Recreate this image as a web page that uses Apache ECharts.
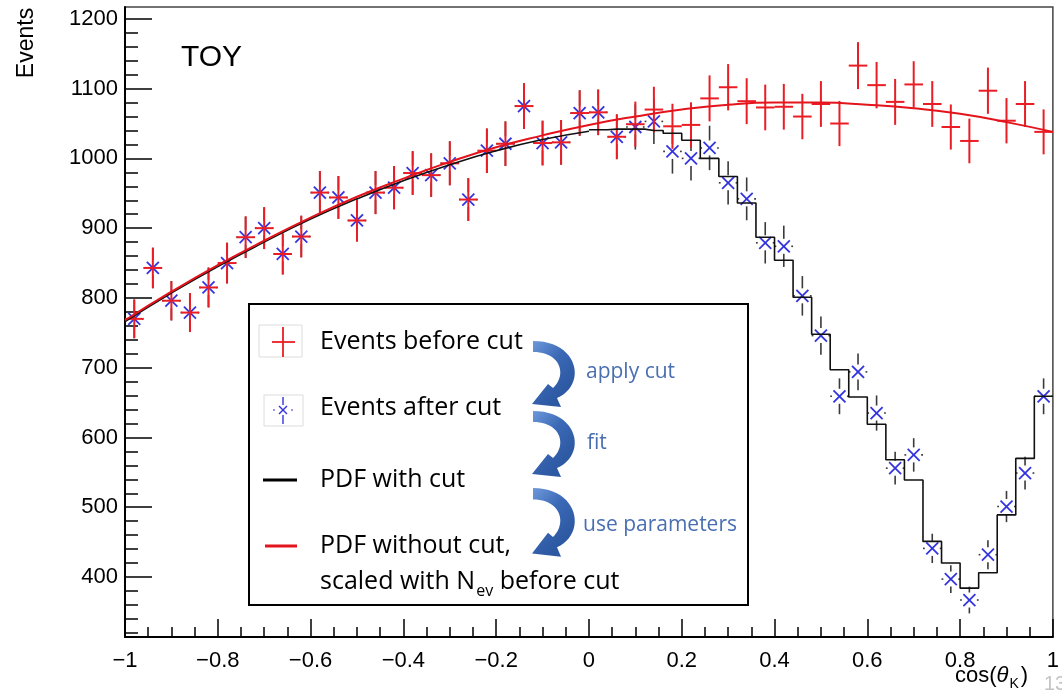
<!DOCTYPE html>
<html>
<head>
<meta charset="utf-8">
<script src="https://cdn.jsdelivr.net/npm/echarts@6/dist/echarts.min.js"></script>
<style>
  html, body { margin: 0; padding: 0; background: #fff; }
  #chart { width: 1062px; height: 697px; }
</style>
</head>
<body>
<div id="chart"></div>
<script>
// ---- data ---------------------------------------------------------------
// bin centres of the cos(theta_K) histogram (50 bins of width 0.04)
const binCenters = [-0.98,-0.94,-0.90,-0.86,-0.82,-0.78,-0.74,-0.70,-0.66,-0.62,
                    -0.58,-0.54,-0.50,-0.46,-0.42,-0.38,-0.34,-0.30,-0.26,-0.22,
                    -0.18,-0.14,-0.10,-0.06,-0.02, 0.02, 0.06, 0.10, 0.14, 0.18,
                     0.22, 0.26, 0.30, 0.34, 0.38, 0.42, 0.46, 0.50, 0.54, 0.58,
                     0.62, 0.66, 0.70, 0.74, 0.78, 0.82, 0.86, 0.90, 0.94, 0.98];
const binWidth = 0.04;

// toy events per bin before the acceptance cut
const eventsBeforeCut = [770, 843, 796, 779, 815, 850, 887, 900, 863, 888,
                         951, 944, 911, 951, 958, 979, 976, 993, 941,1011,
                        1021,1075,1022,1023,1065,1066,1031,1049,1070,1046,
                        1048,1086,1102,1082,1073,1074,1060,1078,1050,1133,
                        1105,1081,1106,1078,1045,1025,1097,1054,1078,1038];

// toy events per bin after the acceptance cut
const eventsAfterCut  = [770, 843, 796, 779, 815, 850, 887, 900, 863, 888,
                         951, 944, 911, 951, 958, 979, 976, 993, 941,1011,
                        1021,1075,1022,1023,1065,1066,1031,1045,1053,1010,
                        1000,1015, 965, 942, 879, 874, 803, 746, 659, 694,
                         635, 556, 575, 441, 397, 367, 432, 501, 549, 659];

// PDF without cut, scaled with N_ev before cut
const pdfNoCutX = [-1.0,-0.9,-0.8,-0.7,-0.6,-0.5,-0.4,-0.3,-0.2,-0.1,0.0,
                    0.1, 0.2, 0.3, 0.4, 0.5, 0.6, 0.7, 0.8, 0.9, 1.0];
const pdfNoCut  = [768, 809, 847, 882, 915, 945, 971, 995,1016,1033,1048,
                  1060,1070,1077,1080,1080,1077,1072,1064,1052,1038];

// PDF with cut: smooth part (full acceptance) ...
const pdfCutSmoothX = [-1.0,-0.9,-0.8,-0.7,-0.6,-0.5,-0.4,-0.3,-0.2,-0.1,0.0];
const pdfCutSmooth  = [766, 807, 845, 880, 913, 942, 968, 991,1011,1027,1039];
// ... and the binned part where the acceptance drops
const pdfCutBinX = [0.02,0.06,0.10,0.14,0.18,0.22,0.26,0.30,0.34,0.38,0.42,0.46,0.50,
                    0.54,0.58,0.62,0.66,0.70,0.74,0.78,0.82,0.86,0.90,0.94,0.98];
const pdfCutBin  = [1041,1042,1042,1040,1036,1026,1000, 974, 936, 887, 854, 801, 748,
                     697, 658, 619, 568, 539, 451, 420, 384, 406, 489, 570, 659];

// axis tick labels
const xTickLabels = ['\u22121','\u22120.8','\u22120.6','\u22120.4','\u22120.2','0','0.2','0.4','0.6','0.8','1'];
const yTickLabels = ['400','500','600','700','800','900','1000','1100','1200'];

// ---- layout -------------------------------------------------------------
const W = 1062, H = 697;
const plot = { left: 125, top: 7, right: 8, bottom: 60 };
const yMin = 314, yMax = 1217;
const plotH = H - plot.top - plot.bottom;
function yPix(v) { return plot.top + (yMax - v) / (yMax - yMin) * plotH; }

const RED = '#ea1d25', BLUE = '#3434de', LABEL_BLUE = '#4a6fb1';
const tickFont = 'Liberation Sans';
const legendFont = 'Open Sans';
const legendSize = 25;

const measureCtx = document.createElement('canvas').getContext('2d');
function textWidth(str, size, family, fstyle) {
  measureCtx.font = (fstyle || 'normal') + ' ' + size + 'px "' + family + '"';
  return measureCtx.measureText(str).width;
}
function txt(str, x, y, size, family, fill, extra) {
  return Object.assign({
    type: 'text', x: x, y: y, silent: true,
    style: Object.assign({
      text: str, fontSize: size, fontFamily: family, fill: fill,
      align: 'left', verticalAlign: 'middle',
      textAlign: 'left', textVerticalAlign: 'middle'
    }, (extra && extra.style) || {})
  }, (extra && extra.el) || {});
}

// ---- mark renderers -----------------------------------------------------
function drawAfterCut(params, api) {
  const x = api.value(0), n = api.value(1), err = Math.sqrt(n);
  const c = api.coord([x, n]);
  const top = api.coord([x, n + err])[1], bot = api.coord([x, n - err])[1];
  const left = api.coord([x - binWidth / 2, n])[0], right = api.coord([x + binWidth / 2, n])[0];
  const gap = 7.5, m = 6;
  const bar = { stroke: '#3a3a3a', lineWidth: 1.6 };
  const mark = { stroke: BLUE, lineWidth: 1.8 };
  return { type: 'group', children: [
    { type: 'line', shape: { x1: c[0], y1: top, x2: c[0], y2: c[1] - gap }, style: bar },
    { type: 'line', shape: { x1: c[0], y1: c[1] + gap, x2: c[0], y2: bot }, style: bar },
    { type: 'line', shape: { x1: left, y1: c[1], x2: c[0] - gap, y2: c[1] }, style: bar },
    { type: 'line', shape: { x1: c[0] + gap, y1: c[1], x2: right, y2: c[1] }, style: bar },
    { type: 'line', shape: { x1: c[0] - m, y1: c[1] - m, x2: c[0] + m, y2: c[1] + m }, style: mark },
    { type: 'line', shape: { x1: c[0] - m, y1: c[1] + m, x2: c[0] + m, y2: c[1] - m }, style: mark }
  ]};
}
function drawBeforeCut(params, api) {
  const x = api.value(0), n = api.value(1), err = Math.sqrt(n);
  const c = api.coord([x, n]);
  const top = api.coord([x, n + err])[1], bot = api.coord([x, n - err])[1];
  const left = api.coord([x - binWidth / 2, n])[0], right = api.coord([x + binWidth / 2, n])[0];
  const st = { stroke: RED, lineWidth: 2 };
  return { type: 'group', children: [
    { type: 'line', shape: { x1: left, y1: c[1], x2: right, y2: c[1] }, style: st },
    { type: 'line', shape: { x1: c[0], y1: top, x2: c[0], y2: bot }, style: st }
  ]};
}

// ---- legend artwork -----------------------------------------------------
function bezierPts(p0, p1, p2, p3, steps) {
  const out = [];
  for (let i = 0; i <= steps; i++) {
    const t = i / steps, u = 1 - t;
    out.push([
      u*u*u*p0[0] + 3*u*u*t*p1[0] + 3*u*t*t*p2[0] + t*t*t*p3[0],
      u*u*u*p0[1] + 3*u*u*t*p1[1] + 3*u*t*t*p2[1] + t*t*t*p3[1]
    ]);
  }
  return out;
}
// curved "flow" arrow: thin tail at the top left, bulging right, head pointing left
function curvedArrow(ox, oy, sy) {
  const outer = bezierPts([0, 0], [46, 0], [54, 44], [24, 57], 24);
  const inner = bezierPts([20, 47], [34, 34], [28, 11], [0, 11], 24);
  const pts = outer.concat([[28, 66], [-1, 63], [15, 43]], inner)
                   .map(p => [ox + p[0], oy + p[1] * sy]);
  return {
    type: 'polygon', silent: true,
    shape: { points: pts },
    style: {
      fill: new echarts.graphic.LinearGradient(0, 0, 1, 0.6, [
        { offset: 0, color: '#6f9adb' },
        { offset: 0.5, color: '#3b69b6' },
        { offset: 1, color: '#2d58a2' }
      ])
    }
  };
}

const legendX = 320;
const subBase = 'scaled with N';
const subW = textWidth(subBase, legendSize, legendFont);
const subEvW = textWidth('ev', 16, legendFont);

const cosW = textWidth('cos(', 22, tickFont);
const thetaW = textWidth('\u03b8', 22, tickFont, 'italic');
const kW = textWidth('K', 14, tickFont);
const xTitleX = 955;

const graphics = [
  // y axis title and tag
  txt('Events', 27, 43, 23, tickFont, '#000',
      { el: { rotation: Math.PI / 2 }, style: { align: 'center', textAlign: 'center' } }),
  txt('TOY', 181, 58, 30, tickFont, '#000'),

  // x axis title cos(theta_K)
  txt('cos(', xTitleX, 676, 22, tickFont, '#000'),
  txt('\u03b8', xTitleX + cosW, 676, 22, tickFont, '#000', { style: { fontStyle: 'italic' } }),
  txt('K', xTitleX + cosW + thetaW + 1, 684, 14, tickFont, '#000'),
  txt(')', xTitleX + cosW + thetaW + kW + 3, 676, 22, tickFont, '#000'),
  txt('13', 1044, 684, 20, tickFont, '#c4c4c4'),

  // legend frame
  { type: 'rect', silent: true, shape: { x: 249, y: 304, width: 499, height: 301 },
    style: { fill: '#fff', stroke: '#000', lineWidth: 2 } },

  // legend icons
  { type: 'rect', silent: true, shape: { x: 259, y: 325, width: 43, height: 32 },
    style: { fill: 'none', stroke: '#dcdcdc', lineWidth: 1 } },
  { type: 'line', silent: true, shape: { x1: 272, y1: 342, x2: 295, y2: 342 }, style: { stroke: RED, lineWidth: 1.8 } },
  { type: 'line', silent: true, shape: { x1: 283, y1: 327, x2: 283, y2: 357 }, style: { stroke: RED, lineWidth: 1.8 } },

  { type: 'rect', silent: true, shape: { x: 264, y: 395, width: 39, height: 31 },
    style: { fill: 'none', stroke: '#dcdcdc', lineWidth: 1 } },
  { type: 'line', silent: true, shape: { x1: 283, y1: 397, x2: 283, y2: 405 }, style: { stroke: BLUE, lineWidth: 1.4 } },
  { type: 'line', silent: true, shape: { x1: 283, y1: 415, x2: 283, y2: 424 }, style: { stroke: BLUE, lineWidth: 1.4 } },
  { type: 'line', silent: true, shape: { x1: 279, y1: 406, x2: 287, y2: 414 }, style: { stroke: BLUE, lineWidth: 1.4 } },
  { type: 'line', silent: true, shape: { x1: 279, y1: 414, x2: 287, y2: 406 }, style: { stroke: BLUE, lineWidth: 1.4 } },
  { type: 'line', silent: true, shape: { x1: 273, y1: 410, x2: 275, y2: 410 }, style: { stroke: BLUE, lineWidth: 1.2 } },
  { type: 'line', silent: true, shape: { x1: 291, y1: 410, x2: 293, y2: 410 }, style: { stroke: BLUE, lineWidth: 1.2 } },

  { type: 'line', silent: true, shape: { x1: 263, y1: 480, x2: 297, y2: 480 }, style: { stroke: '#000', lineWidth: 3 } },
  { type: 'line', silent: true, shape: { x1: 265, y1: 546, x2: 297, y2: 546 }, style: { stroke: '#e3141c', lineWidth: 3 } },

  // legend texts
  txt('Events before cut', legendX, 342, legendSize, legendFont, '#000'),
  txt('Events after cut', legendX, 408, legendSize, legendFont, '#000'),
  txt('PDF with cut', legendX, 480, legendSize, legendFont, '#000'),
  txt('PDF without cut,', legendX, 546, legendSize, legendFont, '#000'),
  txt(subBase, legendX, 582, legendSize, legendFont, '#000'),
  txt('ev', legendX + subW + 1, 591, 16, legendFont, '#000'),
  txt(' before cut', legendX + subW + subEvW + 1, 582, legendSize, legendFont, '#000'),

  // workflow arrows and their labels
  curvedArrow(533, 341, 1.0),
  curvedArrow(533, 411, 1.0),
  curvedArrow(533, 488, 1.04),
  txt('apply cut', 586, 372, 21, legendFont, LABEL_BLUE),
  txt('fit', 587, 443, 21, legendFont, LABEL_BLUE),
  txt('use parameters', 583, 525, 21, legendFont, LABEL_BLUE)
];

// ---- chart --------------------------------------------------------------
const majorTop = yPix(1200);
const tickAxisX = { type: 'value', min: -1, max: 1, show: false };
const option = {
  animation: false,
  backgroundColor: '#fff',
  grid: [
    { left: plot.left, top: plot.top, right: plot.right, bottom: plot.bottom,
      show: true, borderColor: '#444', borderWidth: 1.5, backgroundColor: 'transparent' },
    // major y ticks (400 ... 1200)
    { left: plot.left, right: plot.right, top: majorTop, bottom: H - yPix(400) },
    // minor y ticks (320 ... 1200 every 20)
    { left: plot.left, right: plot.right, top: majorTop, bottom: H - yPix(320) }
  ],
  xAxis: [
    { type: 'value', gridIndex: 0, min: -1, max: 1, interval: 0.2,
      axisLine: { show: true, onZero: false, lineStyle: { color: '#000', width: 2 } },
      axisTick: { show: true, inside: true, length: 18, lineStyle: { color: '#000', width: 1.5 } },
      minorTick: { show: true, splitNumber: 4, length: 10, lineStyle: { color: '#000', width: 1.5 } },
      splitLine: { show: false }, minorSplitLine: { show: false },
      axisLabel: { show: true, margin: 13, fontFamily: tickFont, fontSize: 22, color: '#000',
        formatter: v => xTickLabels[Math.round((v + 1) / 0.2)] } },
    Object.assign({ gridIndex: 1 }, tickAxisX),
    Object.assign({ gridIndex: 2 }, tickAxisX)
  ],
  yAxis: [
    { type: 'value', gridIndex: 0, min: yMin, max: yMax,
      axisLine: { show: true, onZero: false, lineStyle: { color: '#000', width: 2 } },
      axisTick: { show: false }, axisLabel: { show: false }, splitLine: { show: false } },
    { type: 'value', gridIndex: 1, min: 400, max: 1200, interval: 100, position: 'left',
      axisLine: { show: false, onZero: false },
      axisTick: { show: true, inside: true, length: 27, lineStyle: { color: '#000', width: 1.5 } },
      splitLine: { show: false },
      axisLabel: { show: true, margin: 7, fontFamily: tickFont, fontSize: 22, color: '#000',
        formatter: v => yTickLabels[Math.round((v - 400) / 100)] } },
    { type: 'value', gridIndex: 2, min: 320, max: 1200, interval: 20, position: 'left',
      axisLine: { show: false, onZero: false },
      axisTick: { show: true, inside: true, length: 13, lineStyle: { color: '#000', width: 1.5 } },
      splitLine: { show: false }, axisLabel: { show: false } }
  ],
  series: [
    { name: 'PDF with cut', type: 'line', xAxisIndex: 0, yAxisIndex: 0,
      data: pdfCutSmoothX.map((x, i) => [x, pdfCutSmooth[i]]),
      smooth: true, showSymbol: false, lineStyle: { color: '#111', width: 1.6 } },
    { name: 'PDF with cut (binned)', type: 'line', xAxisIndex: 0, yAxisIndex: 0, step: 'middle',
      data: [[pdfCutBinX[0] - binWidth / 2, pdfCutBin[0]]]
              .concat(pdfCutBinX.map((x, i) => [x, pdfCutBin[i]]))
              .concat([[pdfCutBinX[pdfCutBinX.length - 1] + binWidth / 2, pdfCutBin[pdfCutBin.length - 1]]]),
      showSymbol: false, lineStyle: { color: '#111', width: 1.6 } },
    { name: 'PDF without cut', type: 'line', xAxisIndex: 0, yAxisIndex: 0,
      data: pdfNoCutX.map((x, i) => [x, pdfNoCut[i]]),
      smooth: true, showSymbol: false, lineStyle: { color: '#e3141c', width: 2 } },
    { name: 'Events after cut', type: 'custom', xAxisIndex: 0, yAxisIndex: 0,
      data: binCenters.map((x, i) => [x, eventsAfterCut[i]]),
      encode: { x: 0, y: 1 }, renderItem: drawAfterCut },
    { name: 'Events before cut', type: 'custom', xAxisIndex: 0, yAxisIndex: 0,
      data: binCenters.map((x, i) => [x, eventsBeforeCut[i]]),
      encode: { x: 0, y: 1 }, renderItem: drawBeforeCut }
  ],
  graphic: { elements: graphics }
};

const chart = echarts.init(document.getElementById('chart'), null, { renderer: 'canvas', width: W, height: H });
chart.setOption(option);
</script>
</body>
</html>
